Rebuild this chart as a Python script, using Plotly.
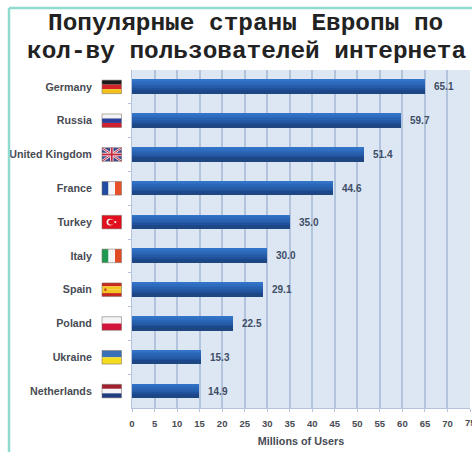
import plotly.graph_objects as go

# Internet users by country, millions
countries = ["Germany", "Russia", "United Kingdom", "France", "Turkey",
             "Italy", "Spain", "Poland", "Ukraine", "Netherlands"]
users = [65.1, 59.7, 51.4, 44.6, 35.0, 30.0, 29.1, 22.5, 15.3, 14.9]
value_labels = ["65.1", "59.7", "51.4", "44.6", "35.0", "30.0", "29.1", "22.5", "15.3", "14.9"]
x_ticks = list(range(0, 80, 5))

title_lines = ["Популярные страны Европы по", "кол-ву пользователей интернета"]
x_title = "Millions of Users"

# Flag stripes, listed from top to bottom (or left to right when vertical)
flags = {
    "Germany": ("h", ["#1a1a1a", "#d4222a", "#f2c21a"]),
    "Russia": ("h", ["#f4f4f6", "#2b3f9a", "#cf2030"]),
    "France": ("v", ["#1f4ba0", "#f6f6f6", "#e8502a"]),
    "Turkey": ("h", ["#e2101e"]),
    "Italy": ("v", ["#1f9a50", "#f6f6f6", "#e24a24"]),
    "Spain": ("h", ["#c8281e", "#f4c420", "#f4c420", "#c8281e"]),
    "Poland": ("h", ["#f4f4f6", "#d2143c"]),
    "Ukraine": ("h", ["#3a70b8", "#f4dc20"]),
    "Netherlands": ("h", ["#a02030", "#f4f4f6", "#1f3c80"]),
    "United Kingdom": ("h", ["#39468c"]),
}

bar_shades = ["#3474c8", "#2f6dc0", "#2b67b8", "#2861b0", "#255aa6", "#21519a", "#1c478a", "#1e4680"]

# Plot area in pixels; paper coordinates are fractions of it
LEFT, RIGHT, TOP, BOTTOM = 132, 470, 70, 408


def px(x):
    return (x - LEFT) / (RIGHT - LEFT)


def py(y):
    return (BOTTOM - y) / (BOTTOM - TOP)


positions = list(range(len(countries)))
bar_height = 0.41
fig = go.Figure()

# The bar body is built from thin horizontal slices to give it a vertical shading
n = len(bar_shades)
for i, shade in enumerate(bar_shades):
    fig.add_bar(
        x=users, y=positions, orientation="h",
        width=bar_height / n * 1.05,
        offset=-bar_height / 2 + i * bar_height / n,
        marker=dict(color=shade, line_width=0),
        showlegend=False, hoverinfo="skip",
    )

shapes = []
flag_x0, flag_x1 = px(102), px(121.5)
flag_half = 0.2
for row, name in enumerate(countries):
    orient, stripes = flags[name]
    x0, x1 = flag_x0, flag_x1
    top, bot = row - flag_half, row + flag_half
    m = len(stripes)
    for k, colour in enumerate(stripes):
        if orient == "h":
            box = dict(x0=x0, x1=x1, y0=top + (bot - top) * k / m, y1=top + (bot - top) * (k + 1) / m)
        else:
            box = dict(x0=x0 + (x1 - x0) * k / m, x1=x0 + (x1 - x0) * (k + 1) / m, y0=top, y1=bot)
        shapes.append(dict(type="rect", xref="paper", yref="y", fillcolor=colour, line_width=0, layer="above", **box))
    if name == "United Kingdom":
        mid = (x0 + x1) / 2
        for a, b, c, d, w, col in [
            (x0, top, x1, bot, 2.5, "#f2e6ea"), (x0, bot, x1, top, 2.5, "#f2e6ea"),
            (x0, top, x1, bot, 1, "#c8283c"), (x0, bot, x1, top, 1, "#c8283c"),
            (mid, top, mid, bot, 3.5, "#f2e6ea"), (x0, row, x1, row, 3.5, "#f2e6ea"),
            (mid, top, mid, bot, 1.8, "#c8283c"), (x0, row, x1, row, 1.8, "#c8283c"),
        ]:
            shapes.append(dict(type="line", xref="paper", yref="y", x0=a, y0=b, x1=c, y1=d,
                               line=dict(color=col, width=w), layer="above"))
    if name == "Turkey":
        shapes.append(dict(type="circle", xref="paper", yref="y", x0=px(106.5), x1=px(113.5),
                           y0=row - 0.10, y1=row + 0.10, fillcolor="#f6f0f0", line_width=0, layer="above"))
        shapes.append(dict(type="circle", xref="paper", yref="y", x0=px(108.3), x1=px(114),
                           y0=row - 0.08, y1=row + 0.08, fillcolor="#e2101e", line_width=0, layer="above"))
        shapes.append(dict(type="circle", xref="paper", yref="y", x0=px(114.2), x1=px(116.4),
                           y0=row - 0.032, y1=row + 0.032, fillcolor="#f6f0f0", line_width=0, layer="above"))
    if name == "Spain":
        shapes.append(dict(type="circle", xref="paper", yref="y", x0=px(104.2), x1=px(106.6),
                           y0=row - 0.04, y1=row + 0.04, fillcolor="#c8401e", line_width=0, layer="above"))
    # Soft edge around each flag
    shapes.append(dict(type="rect", xref="paper", yref="y", x0=x0, x1=x1, y0=top, y1=bot,
                       line=dict(color="rgba(120,110,100,0.55)", width=1), layer="above"))

# Teal frame along the top and left edges of the panel
shapes.append(dict(type="line", xref="paper", yref="paper", x0=px(9), x1=px(472), y0=py(8), y1=py(8),
                   line=dict(color="#8fdccf", width=2.5), layer="above"))
shapes.append(dict(type="line", xref="paper", yref="paper", x0=px(9), x1=px(9), y0=py(8), y1=py(452),
                   line=dict(color="#8fdccf", width=2.5), layer="above"))

title_font = dict(family="Liberation Mono", size=24.4, color="#222222", weight="bold")
annotations = [
    dict(text=title_lines[0], xref="paper", yref="paper", x=px(245), y=py(24), showarrow=False,
         font=title_font, yanchor="middle", xanchor="center"),
    dict(text=title_lines[1], xref="paper", yref="paper", x=px(246.5), y=py(51), showarrow=False,
         font=title_font, yanchor="middle", xanchor="center"),
]
# Value label to the right of each bar
for row, (value, label) in enumerate(zip(users, value_labels)):
    annotations.append(dict(
        text=label, x=value, y=row, xref="x", yref="y", xanchor="left", yanchor="middle",
        xshift=7, showarrow=False,
        font=dict(family="Liberation Sans", size=10, color="#3e4d66", weight="bold"),
    ))
# The last tick label runs off the panel edge, so it is placed by hand on the axis
annotations.append(dict(
    text=str(x_ticks[-1]), x=x_ticks[-1], xref="x", y=py(423), yref="paper",
    xanchor="center", yanchor="middle", showarrow=False,
    font=dict(family="Liberation Sans", size=9.5, color="#474b53", weight="bold"),
))

fig.update_layout(
    width=472, height=452, autosize=False,
    margin=dict(l=LEFT, r=472 - RIGHT, t=TOP, b=452 - BOTTOM),
    paper_bgcolor="#ffffff", plot_bgcolor="#dde7f4",
    barmode="overlay", bargap=0,
    font=dict(family="Liberation Sans", size=10, color="#474b53"),
    shapes=shapes, annotations=annotations,
    xaxis=dict(
        range=[0, 75], tickvals=x_ticks, ticktext=[str(v) for v in x_ticks[:-1]] + [""],
        showgrid=True, gridcolor="#b2c3dc", gridwidth=1.5, zeroline=False,
        showline=True, linecolor="#b4c3da", linewidth=1,
        ticks="outside", ticklen=3, tickcolor="#b4c3da", ticklabelstandoff=4,
        tickfont=dict(size=9.5, color="#474b53", weight="bold"),
        title=dict(text=x_title, font=dict(size=10.8, color="#474b53", weight="bold"), standoff=9),
    ),
    yaxis=dict(
        range=[9.5, -0.5], tickvals=positions, ticktext=countries,
        showgrid=False, zeroline=False, ticks="", ticklabelstandoff=37,
        showline=True, linecolor="#b4c3da", linewidth=1,
        tickfont=dict(size=10.7, color="#474b53", weight="bold"),
        minor=dict(tickvals=[p + 0.5 for p in positions[:-1]], ticks="outside", ticklen=3,
                   tickcolor="#b4c3da", showgrid=False),
    ),
)

fig.write_html("out.html", config=dict(displayModeBar=False))
